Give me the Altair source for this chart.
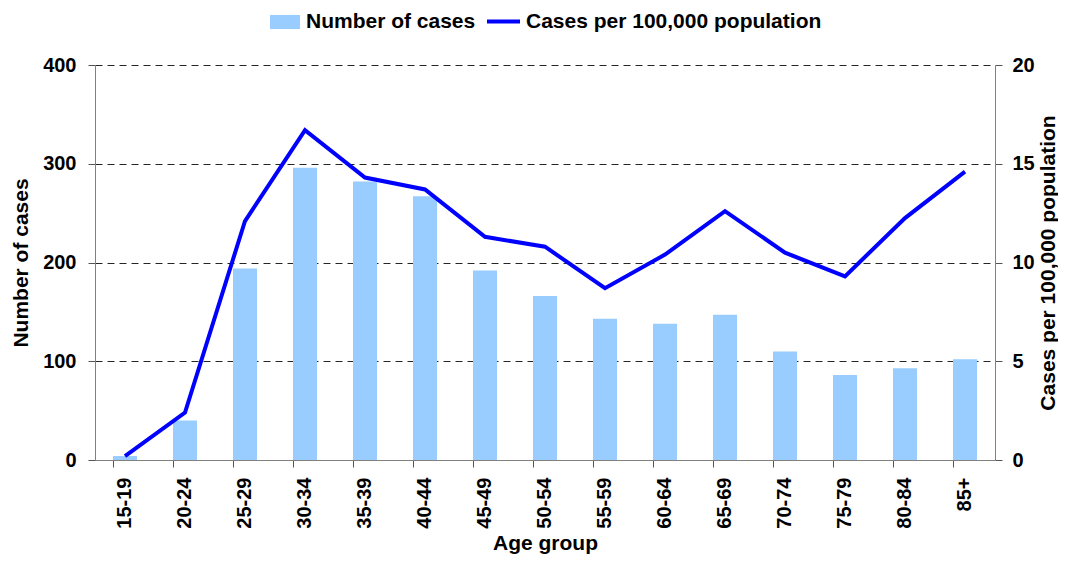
import altair as alt
import pandas as pd

age_groups = ["15-19", "20-24", "25-29", "30-34", "35-39", "40-44", "45-49",
              "50-54", "55-59", "60-64", "65-69", "70-74", "75-79", "80-84", "85+"]
cases = [4, 40, 194, 296, 282, 267, 192, 166, 143, 138, 147, 110, 86, 93, 102]
rates = [0.2, 2.4, 12.1, 16.7, 14.3, 13.7, 11.3, 10.8, 8.7, 10.4, 12.6, 10.5, 9.3, 12.25, 14.6]

df = pd.DataFrame({"age": age_groups, "cases": cases, "rate": rates})

FONT = "Liberation Sans"

x_enc = alt.X(
    "age:N", sort=age_groups, title="Age group",
    scale=alt.Scale(paddingInner=0.6, paddingOuter=0.3),
    axis=alt.Axis(labelAngle=-90, bandPosition=0, tickSize=7,
                  labelPadding=10, titlePadding=4, domainColor="#808080",
                  tickColor="#555555", labelFontSize=20, titleFontSize=21),
)

bars = alt.Chart(df).transform_calculate(series="'Number of cases'").mark_bar(
    color="#99CCFF"
).encode(
    x=x_enc,
    y=alt.Y("cases:Q", scale=alt.Scale(domain=[0, 400]),
            axis=alt.Axis(values=[0, 100, 200, 300, 400], grid=True, gridDash=[7, 5],
                          gridColor="#000000", gridOpacity=0.85, title="Number of cases",
                          tickSize=7, labelPadding=12, titlePadding=11,
                          domainColor="#808080", tickColor="#555555",
                          labelFontSize=20, titleFontSize=21)),
    fill=alt.Fill("series:N", scale=alt.Scale(range=["#99CCFF"]),
                  legend=alt.Legend(orient="none", legendX=175, legendY=-58, title=None,
                                    symbolType="M-1,-0.47H1V0.47H-1Z", symbolSize=900,
                                    symbolStrokeWidth=0, labelOffset=6, padding=0,
                                    labelLimit=500,
                                    labelFontSize=21, labelFont=FONT, labelFontWeight="bold")),
)

line = alt.Chart(df).transform_calculate(series2="'Cases per 100,000 population'").mark_line(
    color="#0000FF", strokeWidth=4
).encode(
    x=x_enc,
    y=alt.Y("rate:Q", scale=alt.Scale(domain=[0, 20]),
            axis=alt.Axis(orient="right", values=[0, 5, 10, 15, 20], grid=False,
                          title="Cases per 100,000 population", titleAngle=270,
                          tickSize=7, labelPadding=10, titlePadding=24,
                          domainColor="#808080", tickColor="#555555",
                          labelFontSize=20, titleFontSize=21)),
    stroke=alt.Stroke("series2:N", scale=alt.Scale(range=["#0000FF"]),
                      legend=alt.Legend(orient="none", legendX=390, legendY=-62, title=None,
                                        symbolType="stroke", symbolSize=1089,
                                        symbolStrokeWidth=4, labelOffset=4, padding=0,
                                        labelLimit=500,
                                        labelFontSize=21, labelFont=FONT, labelFontWeight="bold")),
)

chart = alt.layer(bars, line).resolve_scale(y="independent").properties(
    width=900, height=395, autosize="none",
    padding={"left": 87, "top": 57, "right": 63, "bottom": 95},
).configure_view(stroke=None).configure_axis(
    labelFont=FONT, titleFont=FONT, labelFontWeight="bold", titleFontWeight="bold",
    labelColor="#000000", titleColor="#000000",
)

chart.save("out.html", embed_options={"renderer": "svg", "actions": False})
